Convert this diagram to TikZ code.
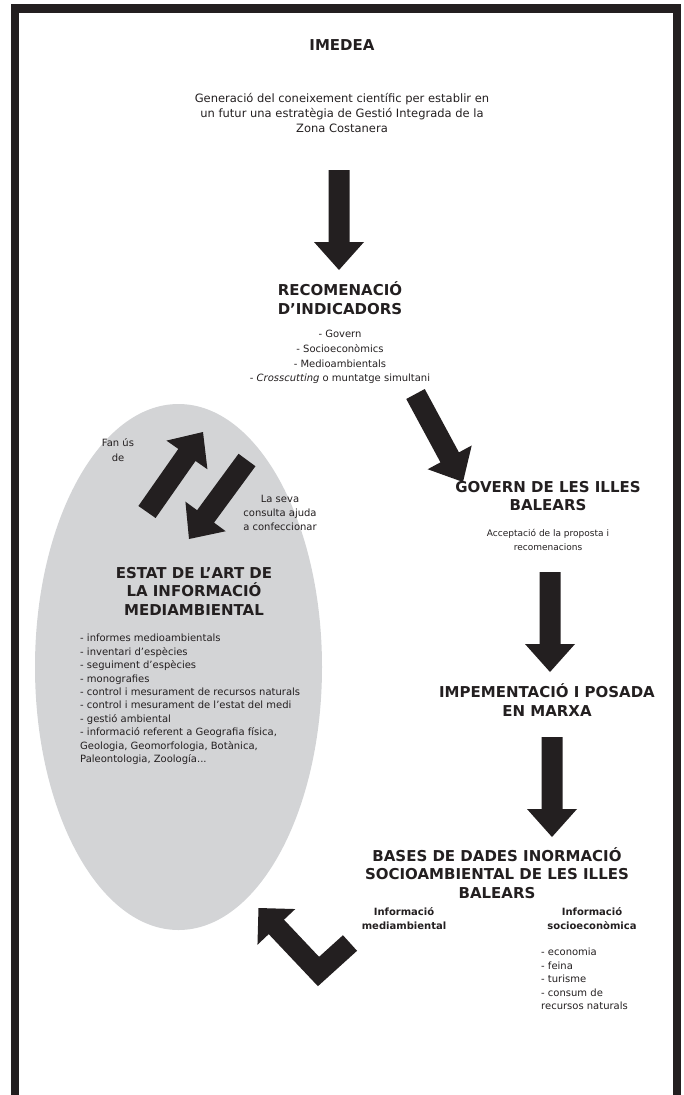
\documentclass[tikz,border=0pt]{standalone}
\usepackage{fontspec}
\setmainfont{DejaVu Sans}
\usetikzlibrary{calc}
\definecolor{inkblack}{RGB}{35,31,32}
\definecolor{stategray}{RGB}{211,212,214}
\tikzstyle{heading}=[align=center,inner sep=0pt,text=inkblack,font=\fontsize{15}{18.5}\selectfont\bfseries]
\tikzstyle{bodytext}=[align=center,inner sep=0pt,text=inkblack,font=\fontsize{10}{14.7}\selectfont]
\tikzstyle{listtext}=[align=left,inner sep=0pt,text=inkblack,font=\fontsize{10}{13.4}\selectfont]
\tikzstyle{sublabel}=[align=center,inner sep=0pt,text=inkblack,font=\fontsize{10}{14}\selectfont\bfseries]
\newcommand{\blockarrow}[2]{% Syntax: {tail}{tip}, both named coordinates
\pgfmathsetmacro{\shaft}{10.5} % half width of the shaft
\pgfmathsetmacro{\wing}{25} % half width of the head
\pgfmathsetmacro{\headlen}{28}
\coordinate (hb) at ($(#2)!\headlen pt!(#1)$);
\fill[inkblack] ($(#1)!\shaft pt!90:(#2)$) -- ($(hb)!\shaft pt!90:(#2)$) -- ($(hb)!\wing pt!90:(#2)$) -- (#2)
  -- ($(hb)!\wing pt!-90:(#2)$) -- ($(hb)!\shaft pt!-90:(#2)$) -- ($(#1)!\shaft pt!-90:(#2)$) -- cycle;
}
\begin{document}
\begin{tikzpicture}[x=1pt,y=-1pt]
\useasboundingbox (0,0) rectangle (684,1095);
% frame, open at the bottom
\draw[inkblack,line width=8.5pt] (15,1100) -- (15,8.5) -- (677,8.5) -- (677,1100);

% state of the art
\fill[stategray] (178.5,667) ellipse [x radius=143.5pt, y radius=263pt];

\node[heading] (imedea) at (342,45) {IMEDEA};
\node[bodytext,font=\fontsize{11.5}{15}\selectfont] (imedeatext) at (342,113) {Generació del coneixement científic per establir en\\un futur una estratègia de Gestió Integrada de la\\Zona Costanera};

\coordinate (a1tail) at (339,170);
\coordinate (a1tip) at (339,270);
\blockarrow{a1tail}{a1tip}

\node[heading] (recom) at (340,298) {RECOMENACIÓ\\D’INDICADORS};
\node[bodytext] (recomlist) at (340,357) {- Govern\\- Socioeconòmics\\- Medioambientals\\- \textit{Crosscutting} o muntatge simultani};

\coordinate (a2tail) at (415.5,394);
\coordinate (a2tip) at (463,482);
\blockarrow{a2tail}{a2tip}

\node[heading] (govern) at (548,496) {GOVERN DE LES ILLES\\BALEARS};
\node[bodytext,font=\fontsize{9}{14}\selectfont] (governtext) at (548,540) {Acceptació de la proposta i\\recomenacions};

\coordinate (a3tail) at (550,572);
\coordinate (a3tip) at (550,672);
\blockarrow{a3tail}{a3tip}

\node[heading] (impl) at (547,700) {IMPEMENTACIÓ I POSADA\\EN MARXA};

\coordinate (a4tail) at (552,737);
\coordinate (a4tip) at (552,837);
\blockarrow{a4tail}{a4tip}

\node[heading] (bases) at (497,873) {BASES DE DADES INORMACIÓ\\SOCIOAMBIENTAL DE LES ILLES\\BALEARS};
\node[sublabel] (infomedi) at (404,919) {Informació\\mediambiental};
\node[sublabel] (infosocio) at (592,919) {Informació\\socioeconòmica};
\node[listtext,anchor=west] (sociolist) at (541,979) {- economia\\- feina\\- turisme\\- consum de\\recursos naturals};

% bent arrow back towards the ellipse
\coordinate (bendend) at (350,943);
\coordinate (bendcorner) at (318.5,971.5);
\coordinate (bendtip) at (258.5,908);
\coordinate (bendbase) at ($(bendtip)!26pt!(bendcorner)$);
\draw[inkblack,line width=21pt] (bendend) -- (bendcorner) -- ($(bendbase)!-1pt!(bendcorner)$);
\fill[inkblack] (bendtip) -- ($(bendbase)!26pt!90:(bendcorner)$) -- ($(bendbase)!26pt!-90:(bendcorner)$) -- cycle;

% arrows inside the ellipse
\coordinate (a5tail) at (147,512);
\coordinate (a5tip) at (203,432);
\blockarrow{a5tail}{a5tip}
\coordinate (a6tail) at (247,460);
\coordinate (a6tip) at (189,539);
\blockarrow{a6tail}{a6tip}

\node[bodytext,font=\fontsize{10}{15}\selectfont] (fanus) at (118,450) {Fan ús\\de};
\node[bodytext,font=\fontsize{10}{14}\selectfont] (consulta) at (280,513) {La seva\\consulta ajuda\\a confeccionar};
\node[heading] (estat) at (194,591) {ESTAT DE L’ART DE\\LA INFORMACIÓ\\MEDIAMBIENTAL};
\node[listtext,anchor=west] (estatlist) at (80,699.5) {- informes medioambientals\\- inventari d’espècies\\- seguiment d’espècies\\- monografies\\- control i mesurament de recursos naturals\\- control i mesurament de l’estat del medi\\- gestió ambiental\\- informació referent a Geografia física,\\Geologia, Geomorfologia, Botànica,\\Paleontologia, Zoología...};
\end{tikzpicture}
\end{document}
